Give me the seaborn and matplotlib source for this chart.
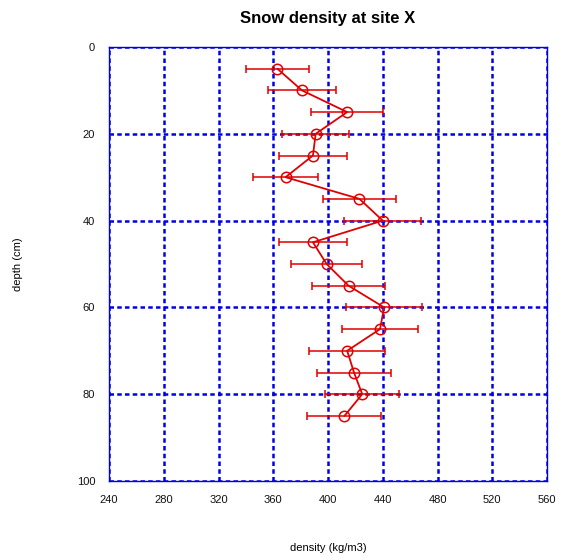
import matplotlib
matplotlib.use("Agg")
import matplotlib.pyplot as plt
import seaborn as sns
import pandas as pd

depth = [5, 10, 15, 20, 25, 30, 35, 40, 45, 50, 55, 60, 65, 70, 75, 80, 85]
density = [363, 381, 414, 391, 389, 369, 423, 440, 389, 399, 415, 441, 438, 414, 419, 425, 412]
density_err = [23, 24.5, 26.5, 24.5, 25, 23.5, 27, 28, 25, 26, 27, 28, 28, 28, 27, 27, 27]
x_ticks = [240, 280, 320, 360, 400, 440, 480, 520, 560]
y_ticks = [0, 20, 40, 60, 80, 100]

df = pd.DataFrame({"depth": depth, "density": density, "err": density_err})

sns.set_style("white")
plt.rcParams["font.family"] = ["Liberation Sans", "DejaVu Sans"]
plt.rcParams["text.color"] = "black"

fig = plt.figure(figsize=(5.67, 5.6), dpi=100)
ax = fig.add_axes([109/567, 1-481/560, 438/567, 434/560])

red = "#e00000"
ax.errorbar(df["density"], df["depth"], xerr=df["err"], fmt="none",
            ecolor=red, elinewidth=1.1, capsize=3, capthick=1.1, zorder=3)
sns.lineplot(data=df, x="density", y="depth", sort=False, orient="y",
             color=red, linewidth=1.3, marker="o", markersize=7.5,
             markerfacecolor="none", markeredgecolor=red, markeredgewidth=1.1,
             ax=ax, zorder=4)

ax.set_xlim(240, 560)
ax.set_ylim(100, 0)
ax.set_xticks(x_ticks)
ax.set_yticks(y_ticks)
ax.set_xticklabels([str(v) for v in x_ticks])
ax.set_yticklabels([str(v) for v in y_ticks])
ax.tick_params(length=0, labelsize=8, colors="#111111")
ax.tick_params(axis="x", pad=10)
ax.tick_params(axis="y", pad=10)

blue = "#0000e6"
ls = (0, (1.8, 1.3))
for v in x_ticks:
    ax.axvline(v, color=blue, linestyle=ls, linewidth=1.8, zorder=1)
for v in y_ticks:
    ax.axhline(v, color=blue, linestyle=ls, linewidth=1.8, zorder=1)
for s in ax.spines.values():
    s.set_color(blue)
    s.set_linewidth(1.0)

ax.set_xlabel("")
ax.set_ylabel("")
fig.text(328/567, 1-548/560, "density (kg/m3)", ha="center", va="center", fontsize=8, color="black")
fig.text(18/567, 1-264/560, "depth (cm)", ha="center", va="center", rotation=90, fontsize=8, color="black")
fig.text(328/567, 1-18/560, "Snow density at site X", ha="center", va="center",
         fontsize=12, fontweight="bold", color="black")

fig.savefig("out.png", dpi=100)
